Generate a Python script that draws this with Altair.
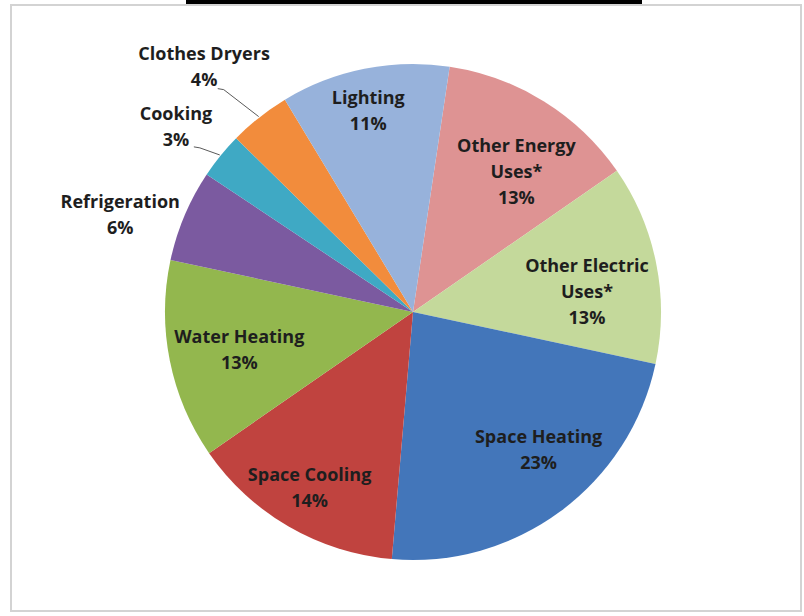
import math

import altair as alt
import pandas as pd

# Residential energy end uses, share of total (%)
categories = [
    "Other Energy Uses*", "Other Electric Uses*", "Space Heating", "Space Cooling",
    "Water Heating", "Refrigeration", "Cooking", "Clothes Dryers", "Lighting",
]
shares = [13, 13, 23, 14, 13, 6, 3, 4, 11]
label_names = [
    "Other Energy\nUses*", "Other Electric\nUses*", "Space Heating", "Space Cooling",
    "Water Heating", "Refrigeration", "Cooking", "Clothes Dryers", "Lighting",
]
colors = [
    "#DE9393", "#C4D99B", "#4376BA", "#C0433F",
    "#93B74E", "#7B5AA0", "#3FA9C4", "#F28C3C", "#97B2DB",
]

# Layout: plot area centred on the pie
W, H = 782, 608
PAD_L, PAD_T = 22, 8
R = 248
START_DEG = 8.5
START = math.radians(START_DEG)
LINE_H = 26

# Label placement per slice: (angle nudge in degrees, radius in px) of the block centre
label_place = {
    "Other Energy Uses*": (4.8, 173),
    "Other Electric Uses*": (5.1, 175),
    "Space Heating": (-5.7, 187),
    "Space Cooling": (0.2, 205),
    "Water Heating": (-1.3, 178),
    "Refrigeration": (-4.8, 308),
    "Cooking": (-1.3, 300),
    "Clothes Dryers": (-2.3, 321),
    "Lighting": (-1.3, 205),
}
# Leader lines for the small outside-labelled slices: (elbow nudge deg, elbow radius)
leaders = {"Cooking": (-1.5, 269), "Clothes Dryers": (-2.1, 292)}

total = sum(shares)


def polar(at, r):
    a = START + at / total * 2 * math.pi
    return W / 2 + r * math.sin(a), H / 2 - r * math.cos(a)


def unpolar(x, y):
    dx, dy = x - W / 2, y - H / 2
    a = math.atan2(dx, -dy) - START
    a = a % (2 * math.pi)
    return a / (2 * math.pi) * total, math.hypot(dx, dy)


rows = []
cum = 0.0
for i, (cat, s, name) in enumerate(zip(categories, shares, label_names)):
    mid = cum + s / 2
    nudge, lr = label_place[cat]
    text = f"{name}\n{s}%"
    n_lines = text.count("\n") + 1
    # multi-line text is anchored at its first line, so lift the anchor
    cx, cy = polar(mid + nudge / 360 * total, lr)
    at, rr = unpolar(cx, cy - (n_lines - 1) * LINE_H / 2)
    rows.append({
        "category": cat,
        "share": s,
        "idx": i,
        "label": text,
        "label_at": at,
        "label_r": rr,
        "mid": mid,
    })
    cum += s
df = pd.DataFrame(rows)

segs = []
for cat, (nudge, er) in leaders.items():
    mid = float(df.loc[df.category == cat, "mid"].iloc[0])
    x0, y0 = polar(mid, R + 1)
    x1, y1 = polar(mid + nudge / 360 * total, er)
    segs.append({"x": x0, "y": y0, "x2": x1, "y2": y1})
    segs.append({"x": x1, "y": y1, "x2": x1 - 6, "y2": y1 - 1})
seg_df = pd.DataFrame(segs)

theta_scale = alt.Scale(domain=[0, total], range=[START, START + 2 * math.pi])

base = alt.Chart(df)

pie = base.mark_arc(outerRadius=R).encode(
    theta=alt.Theta("share:Q", stack=True, scale=theta_scale),
    order=alt.Order("idx:Q"),
    color=alt.Color(
        "category:N",
        scale=alt.Scale(domain=categories, range=colors),
        legend=None,
    ),
)

labels = base.mark_text(
    font="Open Sans", fontWeight="bold", fontSize=18, lineBreak="\n", lineHeight=LINE_H,
    align="center", baseline="middle", color="#1e1e1e",
).encode(
    theta=alt.Theta("label_at:Q", stack=None, scale=theta_scale),
    radius=alt.Radius("label_r:Q", scale=None),
    text="label:N",
)

leader_lines = alt.Chart(seg_df).mark_rule(color="#5a5a5a", strokeWidth=1).encode(
    x=alt.X("x:Q", scale=None),
    y=alt.Y("y:Q", scale=None),
    x2="x2:Q",
    y2="y2:Q",
)

deco = alt.Chart(alt.Data(values=[{}]))
frame = deco.mark_rect(fill="white", stroke="#d3d3d3", strokeWidth=2).encode(
    x=alt.value(11 - PAD_L), x2=alt.value(801 - PAD_L),
    y=alt.value(5 - PAD_T), y2=alt.value(611 - PAD_T),
)
top_bar = deco.mark_rect(color="black").encode(
    x=alt.value(186 - PAD_L), x2=alt.value(642 - PAD_L),
    y=alt.value(0 - PAD_T), y2=alt.value(4 - PAD_T),
)

chart = (
    alt.layer(frame, top_bar, pie, leader_lines, labels)
    .properties(
        width=W, height=H,
        padding={"left": PAD_L, "top": PAD_T, "right": 0, "bottom": 0},
        autosize=alt.AutoSizeParams(type="none"),
        background="white",
    )
    .configure_view(stroke=None)
)

chart.save("out.html", embed_options={"renderer": "svg", "actions": False})
